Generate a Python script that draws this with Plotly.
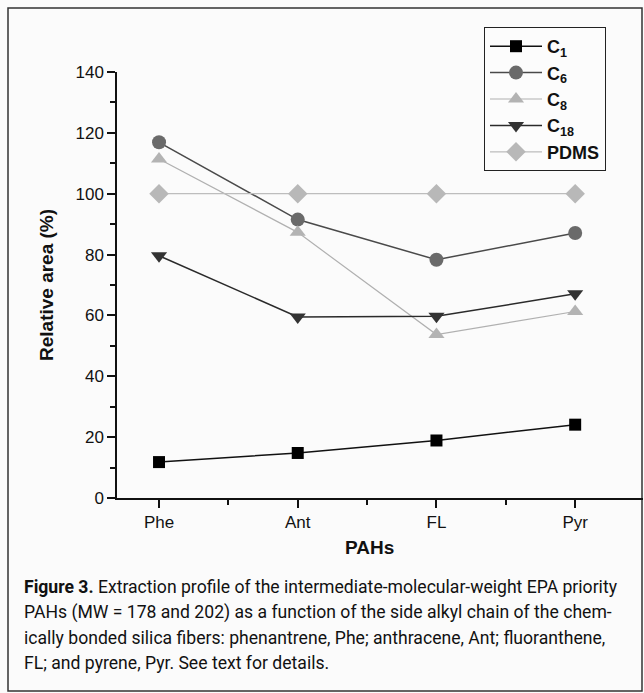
import plotly.graph_objects as go

categories = ["Phe", "Ant", "FL", "Pyr"]
c1 = [11.8, 14.8, 18.9, 24.1]
c6 = [116.9, 91.5, 78.3, 87.1]
c8 = [111.4, 87.3, 53.7, 61.3]
c18 = [79.6, 59.5, 59.7, 67.1]
pdms = [100.0, 100.0, 100.0, 100.0]
y_ticks = [0, 20, 40, 60, 80, 100, 120, 140]

caption_lines = [
    "<b>Figure 3.</b> Extraction profile of the intermediate-molecular-weight EPA priority",
    "PAHs (MW = 178 and 202) as a function of the side alkyl chain of the chem-",
    "ically bonded silica fibers: phenantrene, Phe; anthracene, Ant; fluoranthene,",
    "FL; and pyrene, Pyr. See text for details.",
]

xpos = list(range(len(categories)))

series = [
    ("<b>C<sub>1</sub></b>", c1, "square", 12, "#000000", "#111111", 1.5),
    ("<b>C<sub>6</sub></b>", c6, "circle", 14, "#6a6a6a", "#4a4a4a", 1.5),
    ("<b>C<sub>8</sub></b>", c8, "triangle-up", 14, "#b3b3b3", "#b0b0b0", 1.2),
    ("<b>C<sub>18</sub></b>", c18, "triangle-down", 14, "#333333", "#2a2a2a", 1.5),
    ("<b>PDMS</b>", pdms, "diamond", 15, "#b8b8b8", "#bdbdbd", 1.2),
]

fig = go.Figure()
for name, vals, sym, size, mcol, lcol, lw in series:
    fig.add_trace(go.Scatter(
        x=xpos, y=vals, name=name, mode="lines+markers",
        line=dict(color=lcol, width=lw),
        marker=dict(symbol=sym, size=size, color=mcol, line=dict(width=0)),
    ))

W, H = 644, 693
L, R, T, B = 117, 1, 72, 195
pw = W - L - R
ph = H - T - B

def px(xp):
    return (xp - L) / pw

def py(yp):
    return (H - B - yp) / ph

fig.update_layout(
    width=W, height=H,
    margin=dict(l=L, r=R, t=T, b=B, pad=0),
    paper_bgcolor="#fbfbfb", plot_bgcolor="#fbfbfb",
    font=dict(family="Liberation Sans, Arial", size=16, color="#111111"),
    showlegend=True,
    legend=dict(
        x=px(484), y=py(27), xanchor="left", yanchor="top",
        bgcolor="#fcfcfc", bordercolor="#222222", borderwidth=1,
        font=dict(family="Liberation Sans, Arial", size=18, color="#111111"),
        itemwidth=52, tracegroupgap=0,
    ),
    xaxis=dict(
        range=[-0.303, 3.489], tickmode="array", tickvals=xpos, ticktext=categories,
        showgrid=False, zeroline=False, showline=True, linecolor="#111111", linewidth=1.5,
        ticks="outside", ticklen=8, tickwidth=1.5, tickcolor="#111111",
        tickfont=dict(size=17),
        minor=dict(tickvals=[0.5, 1.5, 2.5], ticks="outside", ticklen=5, tickwidth=1.5, tickcolor="#111111"),
    ),
    yaxis=dict(
        range=[0, 140], tickmode="array", tickvals=y_ticks,
        showgrid=False, zeroline=False, showline=True, linecolor="#111111", linewidth=1.5,
        ticks="outside", ticklen=8, tickwidth=1.5, tickcolor="#111111",
        tickfont=dict(size=17),
        minor=dict(dtick=10, tick0=0, ticks="outside", ticklen=5, tickwidth=1.5, tickcolor="#111111"),
    ),
)

# axis titles
fig.add_annotation(text="<b>Relative area (%)</b>", xref="paper", yref="paper",
                   x=px(46), y=0.5, xanchor="center", yanchor="middle",
                   showarrow=False, textangle=-90,
                   font=dict(size=19, family="Liberation Sans, Arial"))
fig.add_annotation(text="<b>PAHs</b>", xref="paper", yref="paper",
                   x=px(369), y=py(547), xanchor="center", yanchor="middle",
                   showarrow=False,
                   font=dict(size=19, family="Liberation Sans, Arial"))

# caption
cap_y = [587, 612, 638, 663]
for line, yc in zip(caption_lines, cap_y):
    fig.add_annotation(text=line, xref="paper", yref="paper",
                       x=px(22), y=py(yc), xanchor="left", yanchor="middle",
                       showarrow=False, align="left",
                       font=dict(size=17.6, family="Roboto, Liberation Sans", color="#111111"))

# outer frame
fig.add_shape(type="rect", xref="paper", yref="paper",
              x0=px(8), x1=px(642), y0=py(691), y1=py(8),
              line=dict(color="#333333", width=1.5), fillcolor="rgba(0,0,0,0)", layer="below")

fig.write_html("out.html")
